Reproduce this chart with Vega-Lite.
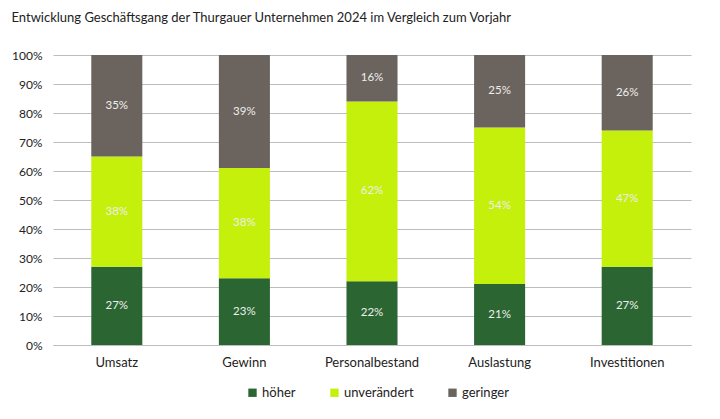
{
  "$schema": "https://vega.github.io/schema/vega-lite/v6.json",
  "width": 638,
  "height": 290,
  "autosize": {"type": "none"},
  "padding": {"left": 53, "top": 55, "right": 29, "bottom": 74},
  "background": "#ffffff",
  "title": {
    "text": "Entwicklung Geschäftsgang der Thurgauer Unternehmen 2024 im Vergleich zum Vorjahr",
    "anchor": "start",
    "frame": "bounds",
    "font": "Lato",
    "fontSize": 13,
    "fontWeight": "normal",
    "color": "#222222",
    "offset": 24
  },
  "config": {
    "view": {"stroke": null},
    "font": "Lato"
  },
  "data": {
    "values": [
      {"cat": "Umsatz", "typ": "höher", "ord": 1, "value": 27},
      {"cat": "Umsatz", "typ": "unverändert", "ord": 2, "value": 38},
      {"cat": "Umsatz", "typ": "geringer", "ord": 3, "value": 35},
      {"cat": "Gewinn", "typ": "höher", "ord": 1, "value": 23},
      {"cat": "Gewinn", "typ": "unverändert", "ord": 2, "value": 38},
      {"cat": "Gewinn", "typ": "geringer", "ord": 3, "value": 39},
      {"cat": "Personalbestand", "typ": "höher", "ord": 1, "value": 22},
      {"cat": "Personalbestand", "typ": "unverändert", "ord": 2, "value": 62},
      {"cat": "Personalbestand", "typ": "geringer", "ord": 3, "value": 16},
      {"cat": "Auslastung", "typ": "höher", "ord": 1, "value": 21},
      {"cat": "Auslastung", "typ": "unverändert", "ord": 2, "value": 54},
      {"cat": "Auslastung", "typ": "geringer", "ord": 3, "value": 25},
      {"cat": "Investitionen", "typ": "höher", "ord": 1, "value": 27},
      {"cat": "Investitionen", "typ": "unverändert", "ord": 2, "value": 47},
      {"cat": "Investitionen", "typ": "geringer", "ord": 3, "value": 26}
    ]
  },
  "transform": [
    {"stack": "value", "groupby": ["cat"], "sort": [{"field": "ord"}], "as": ["v0", "v1"]},
    {"calculate": "(datum.v0 + datum.v1) / 2", "as": "mid"},
    {"calculate": "datum.value + '%'", "as": "label"}
  ],
  "encoding": {
    "x": {
      "field": "cat",
      "type": "nominal",
      "sort": ["Umsatz", "Gewinn", "Personalbestand", "Auslastung", "Investitionen"],
      "scale": {"paddingInner": 0.6, "paddingOuter": 0.3},
      "axis": {
        "title": null,
        "labelAngle": 0,
        "labelFontSize": 13,
        "labelColor": "#222222",
        "labelPadding": 11,
        "ticks": false,
        "domain": true,
        "domainColor": "#bdbdbd",
        "domainWidth": 1.2
      }
    }
  },
  "layer": [
    {
      "mark": {"type": "bar"},
      "encoding": {
        "y": {
          "field": "v0",
          "type": "quantitative",
          "scale": {"domain": [0, 100]},
          "axis": {
            "title": null,
            "values": [0, 10, 20, 30, 40, 50, 60, 70, 80, 90, 100],
            "labelExpr": "datum.value + '%'",
            "labelFontSize": 12,
            "labelColor": "#222222",
            "labelPadding": 11,
            "labelOverlap": false,
            "ticks": false,
            "domain": false,
            "gridColor": "#bdbdbd",
            "gridWidth": 1.2
          }
        },
        "y2": {"field": "v1"},
        "color": {
          "field": "typ",
          "type": "nominal",
          "scale": {
            "domain": ["höher", "unverändert", "geringer"],
            "range": ["#2b6632", "#c4f00c", "#6b645e"]
          },
          "legend": {
            "title": null,
            "orient": "none",
            "direction": "horizontal",
            "legendX": 193,
            "legendY": 331,
            "symbolType": "square",
            "symbolSize": 70,
            "symbolStrokeWidth": 0,
            "labelFontSize": 13,
            "labelColor": "#222222",
            "labelOffset": 3,
            "columnPadding": 32
          }
        }
      }
    },
    {
      "mark": {"type": "text", "fontSize": 11.5, "color": "#eeeeee", "baseline": "middle"},
      "encoding": {
        "y": {
          "field": "mid",
          "type": "quantitative",
          "axis": {
            "title": null,
            "values": [0, 10, 20, 30, 40, 50, 60, 70, 80, 90, 100],
            "labelExpr": "datum.value + '%'",
            "labelFontSize": 12,
            "labelColor": "#222222",
            "labelPadding": 11,
            "labelOverlap": false,
            "ticks": false,
            "domain": false,
            "gridColor": "#bdbdbd",
            "gridWidth": 1.2
          }
        },
        "text": {"field": "label", "type": "nominal"},
        "detail": {"field": "typ"}
      }
    }
  ]
}
